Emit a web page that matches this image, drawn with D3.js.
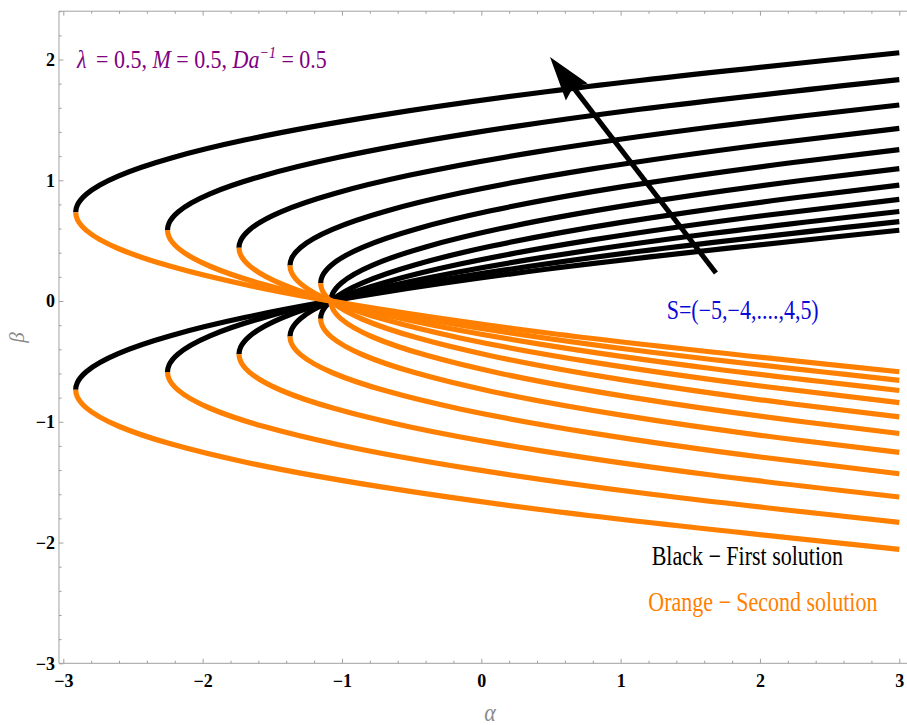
<!DOCTYPE html>
<html>
<head>
<meta charset="utf-8">
<script src="https://cdn.jsdelivr.net/npm/d3@7"></script>
<style>
  html, body { margin: 0; padding: 0; background: #fff; overflow: hidden; }
  svg { display: block; }
  text { font-family: "Liberation Serif", "Times New Roman", Times, serif; white-space: pre; }
</style>
</head>
<body>
<svg id="chart" width="907" height="725"></svg>
<script>
// Suction/injection parameter S for each curve
const sValues = [-5, -4, -3, -2, -1, 0, 1, 2, 3, 4, 5];

// Each curve as [alpha, beta] points, listed from the upper end (alpha = 3) to the lower end (alpha = 3).
// The point with the smallest alpha is the turning point: above it the first solution, below it the second.
const curveSm5 = [[3,2.056],[0.479,1.735],[-0.741,1.535],[-1.691,1.335],[-2.224,1.185],[-2.606,1.035],[-2.835,0.885],[-2.899,0.795],[-2.911,0.735],[-2.899,0.675],[-2.835,0.585],[-2.606,0.435],[-2.224,0.285],[-1.691,0.135],[-0.741,-0.065],[0.479,-0.265],[3,-0.586]];
const curveSm4 = [[3,1.833],[1.138,1.588],[-0.082,1.388],[-1.032,1.188],[-1.565,1.038],[-1.947,0.888],[-2.176,0.738],[-2.240,0.648],[-2.252,0.588],[-2.240,0.528],[-2.176,0.438],[-1.947,0.288],[-1.565,0.138],[-1.032,-0.012],[-0.082,-0.212],[1.138,-0.412],[3,-0.657]];
const curveSm3 = [[3,1.623],[1.651,1.441],[0.431,1.241],[-0.519,1.041],[-1.052,0.891],[-1.434,0.741],[-1.663,0.591],[-1.727,0.501],[-1.739,0.441],[-1.727,0.381],[-1.663,0.291],[-1.434,0.141],[-1.052,-0.009],[-0.519,-0.159],[0.431,-0.359],[1.651,-0.559],[3,-0.741]];
const curveSm2 = [[3,1.430],[2.017,1.294],[0.797,1.094],[-0.153,0.894],[-0.686,0.744],[-1.068,0.594],[-1.297,0.444],[-1.361,0.354],[-1.373,0.294],[-1.361,0.234],[-1.297,0.144],[-1.068,-0.006],[-0.686,-0.156],[-0.153,-0.306],[0.797,-0.506],[2.017,-0.706],[3,-0.842]];
const curveSm1 = [[3,1.254],[2.237,1.147],[1.017,0.947],[0.067,0.747],[-0.466,0.597],[-0.848,0.447],[-1.077,0.297],[-1.141,0.207],[-1.153,0.147],[-1.141,0.087],[-1.077,-0.003],[-0.848,-0.153],[-0.466,-0.303],[0.067,-0.453],[1.017,-0.653],[2.237,-0.853],[3,-0.960]];
const curveS0  = [[3,1.097],[2.310,1.000],[1.090,0.800],[0.140,0.600],[-0.393,0.450],[-0.775,0.300],[-1.004,0.150],[-1.068,0.060],[-1.080,0.000],[-1.068,-0.060],[-1.004,-0.150],[-0.775,-0.300],[-0.393,-0.450],[0.140,-0.600],[1.090,-0.800],[2.310,-1.000],[3,-1.097]];
const curveSp1 = [[3,0.960],[2.237,0.853],[1.017,0.653],[0.067,0.453],[-0.466,0.303],[-0.848,0.153],[-1.077,0.003],[-1.141,-0.087],[-1.153,-0.147],[-1.141,-0.207],[-1.077,-0.297],[-0.848,-0.447],[-0.466,-0.597],[0.067,-0.747],[1.017,-0.947],[2.237,-1.147],[3,-1.254]];
const curveSp2 = [[3,0.842],[2.017,0.706],[0.797,0.506],[-0.153,0.306],[-0.686,0.156],[-1.068,0.006],[-1.297,-0.144],[-1.361,-0.234],[-1.373,-0.294],[-1.361,-0.354],[-1.297,-0.444],[-1.068,-0.594],[-0.686,-0.744],[-0.153,-0.894],[0.797,-1.094],[2.017,-1.294],[3,-1.430]];
const curveSp3 = [[3,0.741],[1.651,0.559],[0.431,0.359],[-0.519,0.159],[-1.052,0.009],[-1.434,-0.141],[-1.663,-0.291],[-1.727,-0.381],[-1.739,-0.441],[-1.727,-0.501],[-1.663,-0.591],[-1.434,-0.741],[-1.052,-0.891],[-0.519,-1.041],[0.431,-1.241],[1.651,-1.441],[3,-1.623]];
const curveSp4 = [[3,0.657],[1.138,0.412],[-0.082,0.212],[-1.032,0.012],[-1.565,-0.138],[-1.947,-0.288],[-2.176,-0.438],[-2.240,-0.528],[-2.252,-0.588],[-2.240,-0.648],[-2.176,-0.738],[-1.947,-0.888],[-1.565,-1.038],[-1.032,-1.188],[-0.082,-1.388],[1.138,-1.588],[3,-1.833]];
const curveSp5 = [[3,0.586],[0.479,0.265],[-0.741,0.065],[-1.691,-0.135],[-2.224,-0.285],[-2.606,-0.435],[-2.835,-0.585],[-2.899,-0.675],[-2.911,-0.735],[-2.899,-0.795],[-2.835,-0.885],[-2.606,-1.035],[-2.224,-1.185],[-1.691,-1.335],[-0.741,-1.535],[0.479,-1.735],[3,-2.056]];

const curves = [curveSm5, curveSm4, curveSm3, curveSm2, curveSm1, curveS0, curveSp1, curveSp2, curveSp3, curveSp4, curveSp5];

// Axis ticks
const xTickValues = [-3, -2, -1, 0, 1, 2, 3];
const yTickValues = [-3, -2, -1, 0, 1, 2];
const minorStep = 0.2;

// Arrow showing increasing S: tail then tip, in [alpha, beta]
const arrowPoints = [[1.684, 0.232], [0.493, 2.02]];

const colorFirst = "#000000";
const colorSecond = "#FF8000";

const W = 907, H = 725;
const svg = d3.select("#chart");

const x = d3.scaleLinear().domain([-3, 3]).range([63.3, 899.3]);
const y = d3.scaleLinear().domain([-3, 2.4]).range([663.3, 11.2]);

// Frame: left, top and bottom edges; the top and bottom run off the right side
const frameLeft = x(-3.031);
const frameTop = y(2.4), frameBottom = y(-3);

const fmt = d => d < 0 ? "\u2212" + Math.abs(d) : String(d);
const minorX = d3.range(-3, 3 + 1e-9, minorStep).filter(v => Math.abs(v - Math.round(v)) > 1e-6);
const minorY = d3.range(-3, 2.4 + 1e-9, minorStep).filter(v => Math.abs(v - Math.round(v)) > 1e-6);

const axisColor = "#a0a0a0";

function styleAxis(g) {
  g.select(".domain").remove();
  g.selectAll(".tick line").attr("stroke", axisColor).attr("stroke-width", 1);
  g.selectAll(".tick text")
    .attr("fill", "#000")
    .style("font-size", "18px")
    .style("font-weight", "bold")
    .style("font-family", "'Liberation Serif', 'Times New Roman', serif");
}

// Bottom axis (ticks pointing inward)
svg.append("g").attr("transform", `translate(0,${frameBottom})`)
  .call(d3.axisBottom(x).tickValues(xTickValues).tickSizeInner(-4.5).tickSizeOuter(0).tickPadding(11).tickFormat(fmt))
  .call(styleAxis);
svg.append("g").attr("transform", `translate(0,${frameBottom})`)
  .call(d3.axisBottom(x).tickValues(minorX).tickSizeInner(-2.6).tickSizeOuter(0).tickFormat(""))
  .call(styleAxis);

// Top frame ticks
svg.append("g").attr("transform", `translate(0,${frameTop})`)
  .call(d3.axisTop(x).tickValues(xTickValues).tickSizeInner(-4.5).tickSizeOuter(0).tickFormat(""))
  .call(styleAxis);
svg.append("g").attr("transform", `translate(0,${frameTop})`)
  .call(d3.axisTop(x).tickValues(minorX).tickSizeInner(-2.6).tickSizeOuter(0).tickFormat(""))
  .call(styleAxis);

// Left axis
svg.append("g").attr("transform", `translate(${frameLeft},0)`)
  .call(d3.axisLeft(y).tickValues(yTickValues).tickSizeInner(-4.5).tickSizeOuter(0).tickPadding(4).tickFormat(fmt))
  .call(styleAxis);
svg.append("g").attr("transform", `translate(${frameLeft},0)`)
  .call(d3.axisLeft(y).tickValues(minorY).tickSizeInner(-2.6).tickSizeOuter(0).tickFormat(""))
  .call(styleAxis);

// Frame lines
const frame = svg.append("g").attr("stroke", axisColor).attr("stroke-width", 1);
frame.append("line").attr("x1", frameLeft).attr("x2", W).attr("y1", frameTop).attr("y2", frameTop);
frame.append("line").attr("x1", frameLeft).attr("x2", W).attr("y1", frameBottom).attr("y2", frameBottom);
frame.append("line").attr("x1", frameLeft).attr("x2", frameLeft).attr("y1", frameTop).attr("y2", frameBottom);

// Curves: each drawn whole, clipped above (first solution) and below (second solution) its turning point
const defs = svg.append("defs");
const line = d3.line().x(d => x(d[0])).y(d => y(d[1])).curve(d3.curveMonotoneY);

const curveInfo = curves.map((pts, i) => {
  const tp = d3.minIndex(pts, d => d[0]);
  const yTurn = y(pts[tp][1]);
  defs.append("clipPath").attr("id", `upper-${i}`)
    .append("rect").attr("x", 0).attr("y", 0).attr("width", W).attr("height", yTurn);
  defs.append("clipPath").attr("id", `lower-${i}`)
    .append("rect").attr("x", 0).attr("y", yTurn).attr("width", W).attr("height", H - yTurn);
  return { pts, i, s: sValues[i] };
});

const gFirst = svg.append("g");
curveInfo.forEach(c => {
  gFirst.append("path")
    .attr("d", line(c.pts))
    .attr("clip-path", `url(#upper-${c.i})`)
    .attr("fill", "none").attr("stroke", colorFirst).attr("stroke-width", 5.2);
});
const gSecond = svg.append("g");
curveInfo.forEach(c => {
  gSecond.append("path")
    .attr("d", line(c.pts))
    .attr("clip-path", `url(#lower-${c.i})`)
    .attr("fill", "none").attr("stroke", colorSecond).attr("stroke-width", 5.2);
});

// Arrow
{
  const [ax0, ay0] = [x(arrowPoints[0][0]), y(arrowPoints[0][1])];
  const [ax1, ay1] = [x(arrowPoints[1][0]), y(arrowPoints[1][1])];
  const ang = Math.atan2(ay1 - ay0, ax1 - ax0);
  const headLen = 44, headHalf = 13.8, notch = 38;
  const bx = ax1 - Math.cos(ang) * (notch - 2), by = ay1 - Math.sin(ang) * (notch - 2);
  svg.append("line")
    .attr("x1", ax0).attr("y1", ay0).attr("x2", bx).attr("y2", by)
    .attr("stroke", "#000").attr("stroke-width", 5);
  svg.append("path")
    .attr("d", `M0,0L${-headLen},${-headHalf}L${-notch},0L${-headLen},${headHalf}Z`)
    .attr("transform", `translate(${ax1},${ay1}) rotate(${ang * 180 / Math.PI})`)
    .attr("fill", "#000");
}

// Parameter annotation
{
  const t = svg.append("g").attr("transform", "translate(77,68.3) scale(1,1.12)")
    .append("text").attr("fill", "#800080").style("font-size", "22px");
  t.append("tspan").attr("font-style", "italic").text("\u03bb");
  t.append("tspan").attr("dx", 4).text(" = 0.5, ");
  t.append("tspan").attr("font-style", "italic").text("M");
  t.append("tspan").text(" = 0.5, ");
  t.append("tspan").attr("font-style", "italic").text("Da");
  t.append("tspan").attr("font-style", "italic").attr("dy", -9).style("font-size", "14px").text("\u22121");
  t.append("tspan").attr("dy", 9).text(" = 0.5");
}

// Text labels with a slightly tall letterform
function tallText(px, py, str, color, size, sy) {
  svg.append("g").attr("transform", `translate(${px},${py}) scale(1,${sy})`)
    .append("text").attr("fill", color).style("font-size", size + "px").text(str);
}
tallText(666.7, 319.3, "S=(\u22125,\u22124,....,4,5)", "#0a0ad8", 22, 1.2);
tallText(651.7, 565, "Black \u2212 First solution", "#000000", 22, 1.22);
tallText(648.3, 611, "Orange \u2212 Second solution", colorSecond, 22, 1.22);

// Axis labels
svg.append("g").attr("transform", "translate(490,721) scale(1,1.15)")
  .append("text").attr("text-anchor", "middle").attr("font-style", "italic")
  .attr("fill", "#8a8a8a").style("font-size", "22px").text("\u03b1");
svg.append("g").attr("transform", "translate(24,337.5) rotate(-90)")
  .append("text").attr("text-anchor", "middle").attr("font-style", "italic")
  .attr("fill", "#8a8a8a").style("font-size", "21px").text("\u03b2");
</script>
</body>
</html>
